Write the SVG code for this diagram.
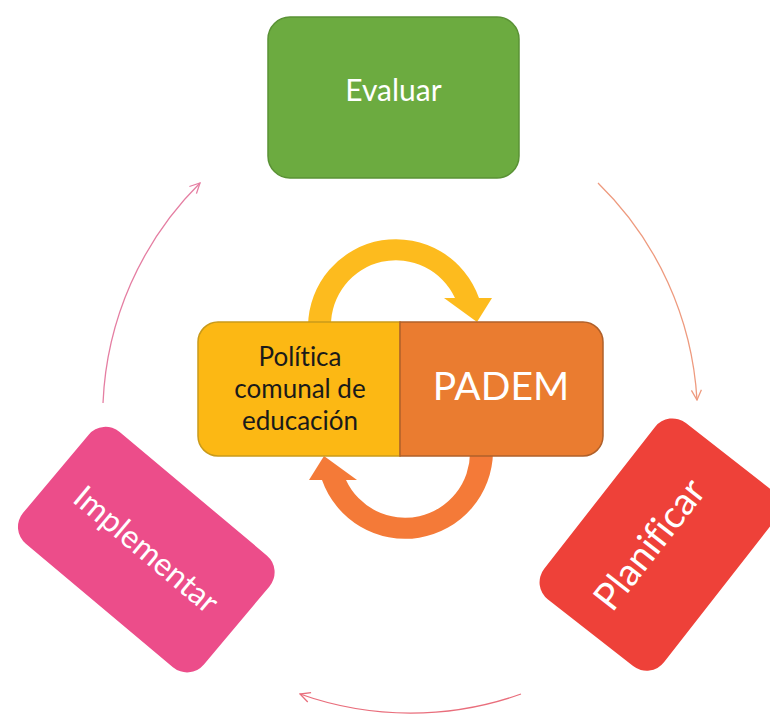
<svg xmlns="http://www.w3.org/2000/svg" width="770" height="716" viewBox="0 0 770 716">
<style>
.lbl{font-family:Lato,"Open Sans","Liberation Sans",sans-serif;text-anchor:middle;font-variant-ligatures:none}
.w{fill:#ffffff}
.conn{fill:none;stroke-width:1.3}
</style>
<defs>
<marker id="mPink" viewBox="0 0 12 12" refX="11" refY="6" markerWidth="12" markerHeight="12" markerUnits="userSpaceOnUse" orient="auto">
<path d="M1,1 L11,6 L1,11" fill="none" stroke="#e57ea2" stroke-width="1.3"/>
</marker>
<marker id="mPeach" viewBox="0 0 12 12" refX="11" refY="6" markerWidth="12" markerHeight="12" markerUnits="userSpaceOnUse" orient="auto">
<path d="M1,1 L11,6 L1,11" fill="none" stroke="#ee9a7e" stroke-width="1.3"/>
</marker>
<marker id="mRed" viewBox="0 0 12 12" refX="11" refY="6" markerWidth="12" markerHeight="12" markerUnits="userSpaceOnUse" orient="auto">
<path d="M1,1 L11,6 L1,11" fill="none" stroke="#e96e7c" stroke-width="1.3"/>
</marker>
</defs>
<rect width="770" height="716" fill="#ffffff"/>

<g id="connectors">
<path class="conn" d="M103,403 A330 330 0 0 1 200,183" stroke="#e57ea2" marker-end="url(#mPink)"/>
<path class="conn" d="M598,183 A330 330 0 0 1 697,400" stroke="#ee9a7e" marker-end="url(#mPeach)"/>
<path class="conn" d="M521,694 A330 330 0 0 1 300,694" stroke="#e96e7c" marker-end="url(#mRed)"/>
<path id="arrow-top" d="M308,332 L308,326 A88 88 0 0 1 479,298 L492,298 L477,322 L444,298 L455,298 A65 65 0 0 0 331,326 L331,332 Z" fill="#fdbb1e"/>
<path id="arrow-bottom" d="M308,332 L308,326 A88 88 0 0 1 479,298 L492,298 L477,322 L444,298 L455,298 A65 65 0 0 0 331,326 L331,332 Z" fill="#f47a38" transform="rotate(180 400.5 389)"/>
</g>

<g id="node-evaluar">
<rect x="268" y="17" width="251" height="161" rx="22" fill="#6cab40" stroke="#5a9235" stroke-width="1.5"/>
<text class="lbl w" x="393.5" y="101" font-size="30">Evaluar</text>
</g>

<g id="node-politica">
<path d="M218,322 H400 V456 H218 A20 20 0 0 1 198,436 V342 A20 20 0 0 1 218,322 Z" fill="#fcb814" stroke="#c99a1a" stroke-width="1.5"/>
<text class="lbl" fill="#1a1a1a" font-size="26" x="300" y="366">Política</text>
<text class="lbl" fill="#1a1a1a" font-size="26" x="300" y="398">comunal de</text>
<text class="lbl" fill="#1a1a1a" font-size="26" x="300" y="430">educación</text>
</g>

<g id="node-padem">
<path d="M400,322 H583 A20 20 0 0 1 603,342 V436 A20 20 0 0 1 583,456 H400 Z" fill="#ea7c30" stroke="#b0602a" stroke-width="1.5"/>
<text class="lbl w" x="501" y="400" font-size="39">PADEM</text>
</g>

<g id="node-implementar" transform="translate(146.3 549.6) rotate(40)">
<rect x="-118" y="-73" width="236" height="146" rx="22" fill="#ec4d8a"/>
<text class="lbl w" x="0" y="11" font-size="32">Implementar</text>
</g>

<g id="node-planificar" transform="translate(659.5 544.6) rotate(-52)">
<rect x="-112" y="-76" width="224" height="152" rx="22" fill="#ee4139"/>
<text class="lbl w" x="-6" y="5" font-size="38">Planificar</text>
</g>
</svg>
